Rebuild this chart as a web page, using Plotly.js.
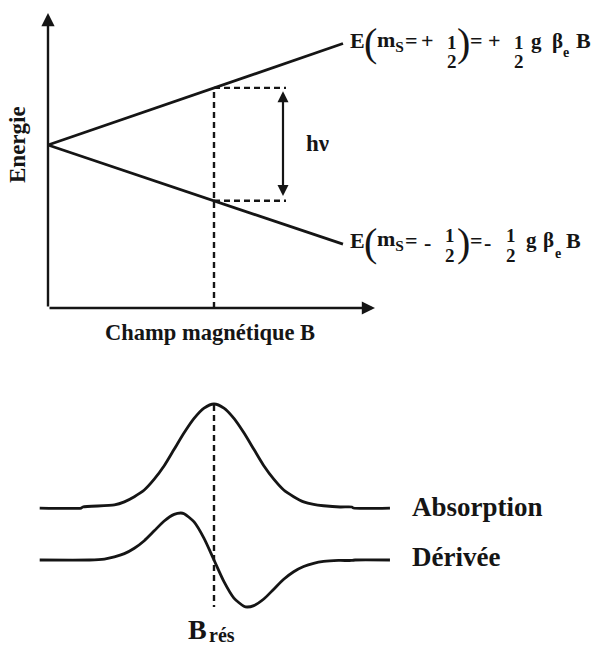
<!DOCTYPE html>
<html>
<head>
<meta charset="utf-8">
<script src="https://cdn.plot.ly/plotly-3.0.1.min.js"></script>
<style>
  html, body { margin: 0; padding: 0; background: #ffffff; }
  #chart { width: 591px; height: 645px; }
</style>
</head>
<body>
<div id="chart"></div>
<script>
// ---- Zeeman splitting of an electron spin (top) and the EPR line (bottom) ----

// Energy levels versus field (field in units where B_rés = 100)
const levelField = [0, 177.7];
const levelUp    = [0, 89];    // E(mS = +1/2)
const levelDown  = [0, -87];   // E(mS = -1/2)
const B_RES = 100;

// Absorption line (peak normalised to 1)
const absField = [-5, 20, 21, 40, 46, 52, 58, 64, 70, 76, 82, 88, 94, 100,
                  106, 112, 118, 124, 130, 136, 142, 148, 154, 160, 166, 176, 183, 184, 206];
const absorption = [-0.01, -0.01, 0, 0.02, 0.05, 0.10, 0.165, 0.27, 0.40, 0.56, 0.72, 0.86, 0.96, 1.00,
                    0.96, 0.86, 0.72, 0.56, 0.40, 0.27, 0.165, 0.10, 0.05, 0.025, 0.012, 0, 0, -0.01, -0.01];

// First-derivative line (extrema normalised to +/-1)
const derField = [-5, 25, 34, 40, 46, 52, 58, 64, 70, 76, 80, 82, 88, 94, 100,
                  106, 112, 118, 120, 124, 130, 136, 142, 148, 154, 160, 166, 175, 183, 185, 206];
const derivative = [0, 0, 0.02, 0.066, 0.135, 0.25, 0.41, 0.62, 0.83, 0.97, 1.0, 0.985, 0.81, 0.46, 0,
                    -0.46, -0.81, -0.985, -1.0, -0.97, -0.83, -0.62, -0.41, -0.25, -0.14, -0.07, -0.03, -0.01, -0.01, 0, 0];

// ---- geometry of the page ----
const W = 591, H = 645;
const FIELD_PX0 = 48, FIELD_K = 1.66;   // field axis: origin pixel, px per unit
const E_PY0 = 145,  E_K = 1.14;         // energy axis
const ABS_PY0 = 507, ABS_K = 103;       // absorption baseline
const DER_PY0 = 560, DER_K = 47;        // derivative baseline

const AXIS_E_MIN = (E_PY0 - 308) / E_K;     // level of the field axis
const AXIS_E_MAX = (E_PY0 - 13) / E_K;      // tip of the energy axis
const AXIS_B_MAX = (375 - FIELD_PX0) / FIELD_K;
const HV_B = (283 - FIELD_PX0) / FIELD_K;   // position of the h-nu arrow
const DASH_END_B = (286 - FIELD_PX0) / FIELD_K;

// energies of both levels at resonance, from the level lines
const eHi = levelUp[1] * B_RES / levelField[1];
const eLo = levelDown[1] * B_RES / levelField[1];

const INK = '#151515';
const SERIF = 'Liberation Serif, Times New Roman, serif';

const solid = { color: INK, width: 2.8 };
const dashed = { color: INK, width: 2.4, dash: '6px,4px' };

const traces = [
  { x: levelField, y: levelUp, yaxis: 'y', mode: 'lines', line: solid },
  { x: levelField, y: levelDown, yaxis: 'y', mode: 'lines', line: solid },
  { x: [B_RES, B_RES], y: [AXIS_E_MIN, eHi], yaxis: 'y', mode: 'lines', line: dashed },
  { x: [B_RES, DASH_END_B], y: [eHi, eHi], yaxis: 'y', mode: 'lines', line: dashed },
  { x: [B_RES, DASH_END_B], y: [eLo, eLo], yaxis: 'y', mode: 'lines', line: dashed },
  { x: absField, y: absorption, yaxis: 'y2', mode: 'lines',
    line: { color: INK, width: 2.8, shape: 'spline', smoothing: 0.7 } },
  { x: derField, y: derivative, yaxis: 'y3', mode: 'lines',
    line: { color: INK, width: 2.8, shape: 'spline', smoothing: 0.7 } },
  { x: [B_RES, B_RES], y: [0.99, (ABS_PY0 - 607) / ABS_K], yaxis: 'y2', mode: 'lines', line: dashed }
];

// pixel -> paper helpers for text placement
const PX = p => p / W;
const PY = p => 1 - p / H;

function label(text, x, y, size, opts) {
  return Object.assign({
    text: text, xref: 'paper', yref: 'paper', x: PX(x), y: PY(y),
    xanchor: 'center', yanchor: 'middle', showarrow: false,
    font: { family: SERIF, size: size, color: INK, weight: 'bold' }
  }, opts || {});
}
function paren(ch, x, y) {
  return label(ch, x, y, 40, { font: { family: SERIF, size: 40, color: INK, weight: 'normal' } });
}

function levelLabel(yc, sign, f1x, f2x, fracTop, fracBot, gx, bx, ex, ey, Bx, signDy) {
  return [
    label('E', 357, yc, 22),
    paren('(', 370, yc + 2),
    label('m<sub>S</sub>', 375, yc, 22, { xanchor: 'left' }),
    label('=', 411, yc, 22),
    label(sign, 427, yc + signDy, 22),
    label('1', f1x, fracTop, 19),
    label('2', f1x, fracBot, 19),
    paren(')', 464, yc + 2),
    label('=', 476, yc, 22),
    label(sign, sign === '+' ? 494 : 487, yc + signDy, 22),
    label('1', f2x, fracTop, 19),
    label('2', f2x, fracBot, 19),
    label('g', gx, yc, 21),
    label('β', bx, yc, 21),
    label('e', ex, ey, 14),
    label('B', Bx, yc, 22)
  ];
}

const annotations = [
  // energy axis
  { xref: 'x', yref: 'y', axref: 'x', ayref: 'y', x: 0, y: AXIS_E_MAX, ax: 0, ay: AXIS_E_MIN,
    text: '', showarrow: true, arrowhead: 2, arrowsize: 1.1, arrowwidth: 2.4, arrowcolor: INK },
  // field axis
  { xref: 'x', yref: 'y', axref: 'x', ayref: 'y', x: AXIS_B_MAX, y: AXIS_E_MIN, ax: 0, ay: AXIS_E_MIN,
    text: '', showarrow: true, arrowhead: 2, arrowsize: 1.1, arrowwidth: 2.4, arrowcolor: INK },
  // h-nu double arrow between the two levels
  { xref: 'x', yref: 'y', axref: 'x', ayref: 'y', x: HV_B, y: eHi - 3, ax: HV_B, ay: eLo + 3,
    text: '', showarrow: true, arrowside: 'end+start', arrowhead: 2, startarrowhead: 2,
    arrowsize: 1, startarrowsize: 1, arrowwidth: 2.2, arrowcolor: INK },

  label('Energie', 18, 145, 23, { textangle: -90 }),
  label('Champ magnétique B', 210, 332, 22.5),
  label('hν', 317, 143, 23),
  label('Absorption', 410, 507, 27, { xanchor: 'left' }),
  label('Dérivée', 410, 557, 27, { xanchor: 'left' }),
  label('B', 197, 629, 28),
  label('rés', 207, 635, 20, { xanchor: 'left' })
].concat(
  levelLabel(41, '+', 452, 519, 43, 61, 536, 557, 566, 52, 583, 0),
  levelLabel(240, '-', 450, 511, 235, 255, 531, 548, 558, 253, 573, 2)
);

const hidden = { visible: false, fixedrange: true };

const layout = {
  width: W, height: H,
  margin: { l: 0, r: 0, t: 0, b: 0 },
  paper_bgcolor: '#ffffff', plot_bgcolor: '#ffffff',
  showlegend: false,
  xaxis: Object.assign({ domain: [0, 1], range: [-FIELD_PX0 / FIELD_K, (W - FIELD_PX0) / FIELD_K] }, hidden),
  yaxis: Object.assign({ domain: [0, 1], range: [(E_PY0 - H) / E_K, E_PY0 / E_K] }, hidden),
  yaxis2: Object.assign({ overlaying: 'y', range: [(ABS_PY0 - H) / ABS_K, ABS_PY0 / ABS_K] }, hidden),
  yaxis3: Object.assign({ overlaying: 'y', range: [(DER_PY0 - H) / DER_K, DER_PY0 / DER_K] }, hidden),
  annotations: annotations
};

Plotly.newPlot('chart', traces, layout, { staticPlot: true, displayModeBar: false });
</script>
</body>
</html>
